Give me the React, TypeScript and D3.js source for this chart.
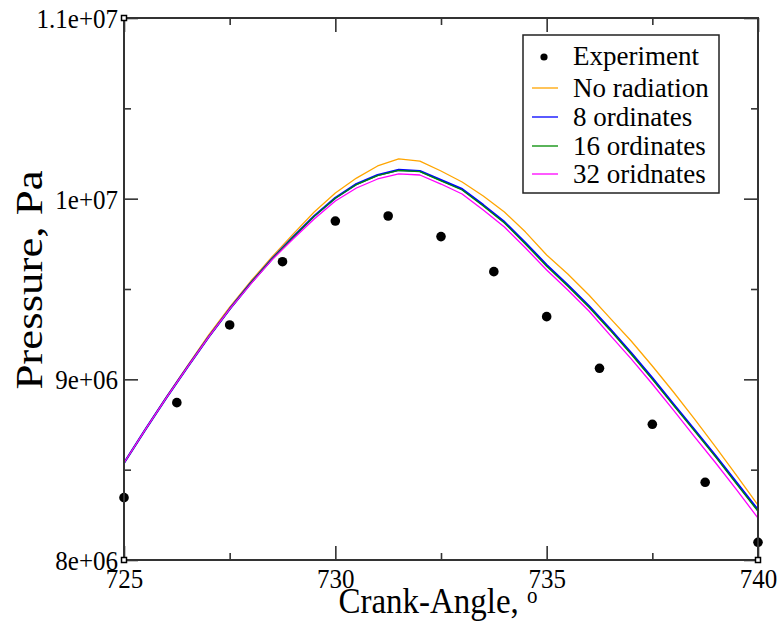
import React, { useEffect, useRef } from 'react';
import * as d3 from 'd3';

// crank angle grid for the simulated curves (deg)
const angles = [
  725, 725.5, 726, 726.5, 727, 727.5, 728, 728.5, 729, 729.5,
  730, 730.5, 731, 731.5, 732, 732.5, 733, 733.5, 734, 734.5,
  735, 735.5, 736, 736.5, 737, 737.5, 738, 738.5, 739, 739.5, 740
];

// pressure, Pa
const noRadiation = [
  8.537e6, 8.720e6, 8.902e6, 9.074e6, 9.245e6, 9.400e6, 9.544e6, 9.677e6, 9.804e6, 9.926e6,
  10.031e6, 10.114e6, 10.181e6, 10.220e6, 10.208e6, 10.153e6, 10.092e6, 10.015e6, 9.926e6, 9.815e6,
  9.688e6, 9.583e6, 9.467e6, 9.339e6, 9.212e6, 9.074e6, 8.930e6, 8.780e6, 8.625e6, 8.465e6, 8.304e6
];
const ordinates8 = [
  8.537e6, 8.720e6, 8.897e6, 9.068e6, 9.234e6, 9.389e6, 9.533e6, 9.666e6, 9.788e6, 9.904e6,
  10.004e6, 10.081e6, 10.131e6, 10.159e6, 10.153e6, 10.103e6, 10.053e6, 9.965e6, 9.871e6, 9.755e6,
  9.633e6, 9.522e6, 9.406e6, 9.279e6, 9.146e6, 9.007e6, 8.863e6, 8.720e6, 8.576e6, 8.426e6, 8.277e6
];
const ordinates16 = [
  8.537e6, 8.720e6, 8.897e6, 9.068e6, 9.234e6, 9.389e6, 9.533e6, 9.665e6, 9.787e6, 9.902e6,
  10.002e6, 10.078e6, 10.128e6, 10.156e6, 10.150e6, 10.099e6, 10.048e6, 9.959e6, 9.865e6, 9.748e6,
  9.626e6, 9.515e6, 9.399e6, 9.272e6, 9.139e6, 9.000e6, 8.856e6, 8.713e6, 8.569e6, 8.419e6, 8.269e6
];
const ordinates32 = [
  8.537e6, 8.720e6, 8.897e6, 9.068e6, 9.234e6, 9.389e6, 9.528e6, 9.661e6, 9.777e6, 9.887e6,
  9.987e6, 10.059e6, 10.109e6, 10.137e6, 10.131e6, 10.081e6, 10.026e6, 9.937e6, 9.843e6, 9.727e6,
  9.605e6, 9.494e6, 9.378e6, 9.245e6, 9.113e6, 8.974e6, 8.830e6, 8.681e6, 8.537e6, 8.387e6, 8.232e6
];

// measured points
const expAngles = [725, 726.25, 727.5, 728.75, 730, 731.25, 732.5, 733.75, 735, 736.25, 737.5, 738.75, 740];
const expPressure = [
  8.345e6, 8.871e6, 9.301e6, 9.651e6, 9.876e6, 9.904e6, 9.790e6, 9.596e6, 9.347e6, 9.061e6, 8.751e6, 8.430e6, 8.098e6
];

const xTicks = [725, 730, 735, 740];
const xMinorTicks = [727.5, 732.5, 737.5];
const yTicks = [8e6, 9e6, 1e7, 1.1e7];
const yTickLabels = ['8e+06', '9e+06', '1e+07', '1.1e+07'];
const yMinorTicks = [8.5e6, 9.5e6, 1.05e7];

const seriesNames = ['No radiation', '8 ordinates', '16 ordinates', '32 oridnates'];
const seriesColors = ['#ffa500', '#0000ff', '#008b00', '#ff00ff'];
const seriesWidths = [1.3, 2.2, 1.3, 1.3];

const W = 782;
const H = 623;
const margin = { top: 18, right: 24, bottom: 63, left: 124 };
const FONT = 'Liberation Serif, Times New Roman, serif';
// slight vertical stretch on axis texts, like the source image
const STRETCH = 1.1;

export default function App() {
  const svgRef = useRef<SVGSVGElement>(null);

  useEffect(() => {
    if (!svgRef.current) return;
    const svg = d3.select(svgRef.current);
    svg.selectAll('*').remove();

    const iw = W - margin.left - margin.right;
    const ih = H - margin.top - margin.bottom;

    const x = d3.scaleLinear().domain([725, 740]).range([0, iw]);
    const y = d3.scaleLinear().domain([8e6, 1.1e7]).range([ih, 0]);

    const g = svg.append('g').attr('transform', `translate(${margin.left},${margin.top})`);

    // curves
    const allSeries = [noRadiation, ordinates8, ordinates16, ordinates32];
    const line = d3.line<number>()
      .x((_, i) => x(angles[i]))
      .y(d => y(d));
    allSeries.forEach((s, k) => {
      g.append('path')
        .datum(s)
        .attr('d', line)
        .attr('fill', 'none')
        .attr('stroke', seriesColors[k])
        .attr('stroke-width', seriesWidths[k])
        .attr('stroke-linejoin', 'round');
    });

    // experiment
    g.selectAll('.exp')
      .data(expPressure)
      .enter()
      .append('circle')
      .attr('cx', (_, i) => x(expAngles[i]))
      .attr('cy', d => y(d))
      .attr('r', 4.8)
      .attr('fill', '#000');

    // axes, ticks pointing inward on all four sides
    const axisColor = '#333';
    const styleAxis = (sel: d3.Selection<SVGGElement, unknown, null, undefined>) => {
      sel.attr('font-family', FONT).attr('font-size', 25);
      sel.select('.domain').remove();
      sel.selectAll('.tick line').attr('stroke', axisColor).attr('stroke-width', 1.6);
      sel.selectAll('.tick text').attr('fill', '#000');
    };

    const bottom = g.append('g').attr('transform', `translate(0,${ih})`)
      .call(d3.axisBottom(x).tickValues(xTicks).tickSize(-14).tickPadding(0).tickFormat(d3.format('d')));
    styleAxis(bottom);
    bottom.selectAll('.tick text')
      .attr('x', 0).attr('y', 0).attr('dy', 0)
      .attr('transform', `translate(0,28) scale(1,${STRETCH})`);

    const bottomMinor = g.append('g').attr('transform', `translate(0,${ih})`)
      .call(d3.axisBottom(x).tickValues(xMinorTicks).tickSize(-7).tickFormat(() => ''));
    styleAxis(bottomMinor);

    const top = g.append('g')
      .call(d3.axisTop(x).tickValues(xTicks).tickSize(-14).tickFormat(() => ''));
    styleAxis(top);
    const topMinor = g.append('g')
      .call(d3.axisTop(x).tickValues(xMinorTicks).tickSize(-7).tickFormat(() => ''));
    styleAxis(topMinor);

    const left = g.append('g')
      .call(d3.axisLeft(y).tickValues(yTicks).tickSize(-14).tickPadding(0)
        .tickFormat((_, i) => yTickLabels[i]));
    styleAxis(left);
    left.selectAll('.tick text')
      .attr('x', 0).attr('y', 0).attr('dy', '0.34em')
      .attr('transform', `translate(-6,0) scale(1,${STRETCH})`);

    const leftMinor = g.append('g')
      .call(d3.axisLeft(y).tickValues(yMinorTicks).tickSize(-7).tickFormat(() => ''));
    styleAxis(leftMinor);

    const right = g.append('g').attr('transform', `translate(${iw},0)`)
      .call(d3.axisRight(y).tickValues(yTicks).tickSize(-14).tickFormat(() => ''));
    styleAxis(right);
    const rightMinor = g.append('g').attr('transform', `translate(${iw},0)`)
      .call(d3.axisRight(y).tickValues(yMinorTicks).tickSize(-7).tickFormat(() => ''));
    styleAxis(rightMinor);

    // frame
    g.append('rect')
      .attr('width', iw)
      .attr('height', ih)
      .attr('fill', 'none')
      .attr('stroke', axisColor)
      .attr('stroke-width', 2);

    [[0, 0], [0, ih], [iw, ih]].forEach(([cx, cy]) => {
      g.append('rect')
        .attr('x', cx - 2.5).attr('y', cy - 2.5)
        .attr('width', 5).attr('height', 5)
        .attr('fill', '#fff').attr('stroke', '#000').attr('stroke-width', 1.5);
    });

    // axis titles
    const xt = svg.append('text')
      .attr('transform', `translate(${margin.left + iw / 2 - 3},613) scale(1,${STRETCH})`)
      .attr('text-anchor', 'middle')
      .attr('font-family', FONT)
      .attr('font-size', 33);
    xt.append('tspan').text('Crank-Angle, ');
    xt.append('tspan').attr('font-size', 21).attr('dy', -9).text('o');

    svg.append('text')
      .attr('transform', 'translate(42,280) rotate(-90) scale(1.18,1)')
      .attr('text-anchor', 'middle')
      .attr('font-family', FONT)
      .attr('font-size', 38)
      .text('Pressure, Pa');

    // legend
    const lg = svg.append('g').attr('font-family', FONT).attr('font-size', 27);
    lg.append('rect')
      .attr('x', 523).attr('y', 35)
      .attr('width', 196).attr('height', 158)
      .attr('fill', '#fff')
      .attr('stroke', '#222')
      .attr('stroke-width', 1.5);

    const rowY = [57, 88, 117, 146, 174];
    const baseY = [65, 97, 126, 155, 183];

    lg.append('circle').attr('cx', 544).attr('cy', rowY[0]).attr('r', 3.6).attr('fill', '#000');
    lg.append('text').attr('x', 573).attr('y', baseY[0]).text('Experiment');

    seriesNames.forEach((name, k) => {
      lg.append('line')
        .attr('x1', 532).attr('x2', 558)
        .attr('y1', rowY[k + 1]).attr('y2', rowY[k + 1])
        .attr('stroke', seriesColors[k])
        .attr('stroke-width', 1.3);
      lg.append('text').attr('x', 573).attr('y', baseY[k + 1]).text(name);
    });
  }, []);

  return (
    <svg
      ref={svgRef}
      width={W}
      height={H}
      style={{ position: 'absolute', left: 0, top: 0, background: '#fff' }}
    />
  );
}
